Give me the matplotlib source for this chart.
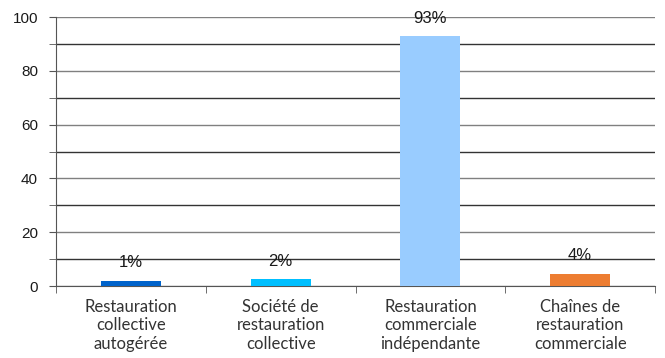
import numpy as np
import matplotlib.pyplot as plt
from matplotlib.ticker import MultipleLocator

categories = ["Restauration\ncollective\nautogérée",
              "Société de\nrestauration\ncollective",
              "Restauration\ncommerciale\nindépendante",
              "Chaînes de\nrestauration\ncommerciale"]
values = [2.0, 2.5, 92.8, 4.5]
value_labels = ["1%", "2%", "93%", "4%"]
colors = ["#0063cb", "#00bfff", "#99ccff", "#ed7d31"]

plt.rcParams['font.family'] = ['Liberation Sans', 'DejaVu Sans']

fig = plt.figure(figsize=(6.65, 3.58), dpi=100)
ax = fig.add_axes([0.0842, 0.201, 0.9008, 0.7515])

x = np.arange(len(categories))
bars = ax.bar(x, values, width=0.4, color=colors, zorder=3)

for xi, v, lab in zip(x, values, value_labels):
    ax.annotate(lab, (xi, v), xytext=(0, 13), textcoords="offset points",
                ha="center", va="center", fontsize=12, color="#1a1a1a", zorder=4)

ax.set_xlim(-0.5, len(categories) - 0.5)
ax.set_ylim(0, 100)
ax.yaxis.set_major_locator(MultipleLocator(20))
ax.yaxis.set_minor_locator(MultipleLocator(10))
ax.grid(axis="y", which="major", color="#808080", linewidth=1.0, zorder=0)
ax.grid(axis="y", which="minor", color="#333333", linewidth=1.0, zorder=0)

ax.set_xticks(x)
ax.set_xticklabels(categories, fontsize=12, family=["Lato", "DejaVu Sans"],
                   color="#333333", linespacing=1.2)
ax.tick_params(axis="x", which="major", length=0, pad=9)
ax.set_xticks(np.arange(len(categories) + 1) - 0.5, minor=True)
ax.tick_params(axis="x", which="minor", length=5, color="#555555")
ax.tick_params(axis="y", which="both", length=5, color="#555555", labelsize=11,
               labelcolor="#1a1a1a", pad=8)

for s in ["top", "right"]:
    ax.spines[s].set_visible(False)
ax.spines["left"].set_color("#555555")
ax.spines["bottom"].set_color("#555555")

fig.savefig("out.png", dpi=100)
